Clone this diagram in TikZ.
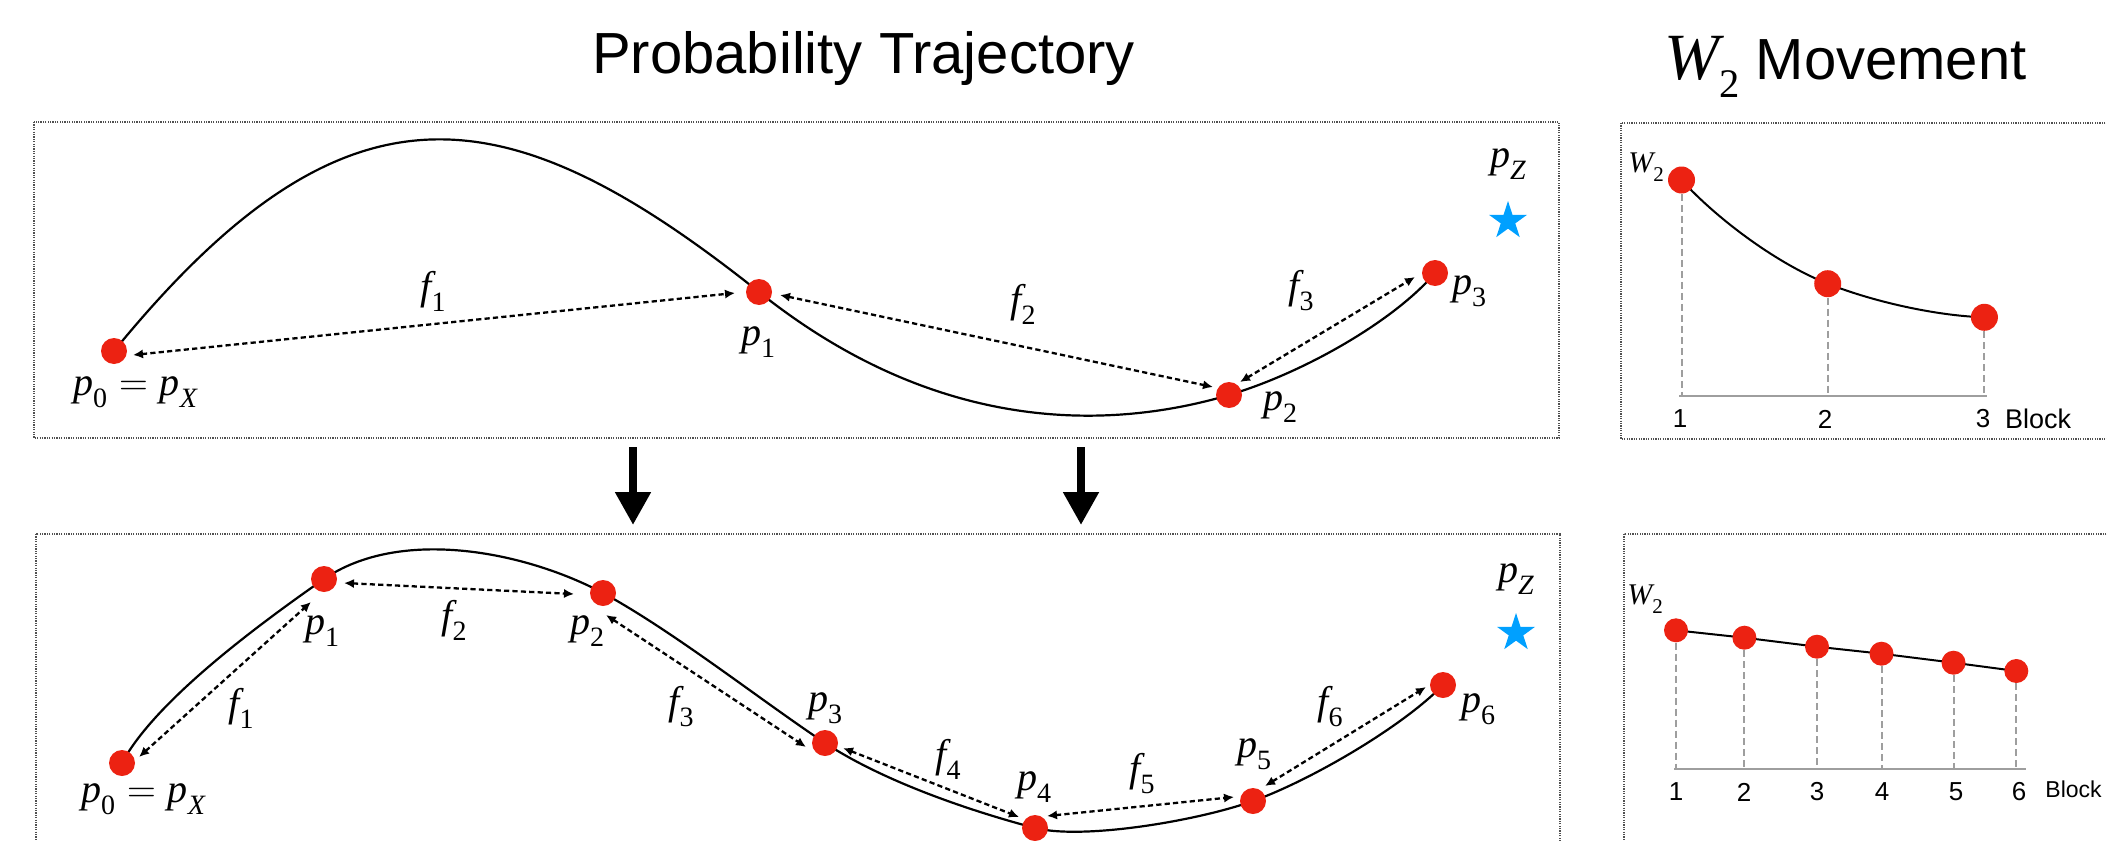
\documentclass[tikz,border=0pt]{standalone}
\usepackage{fontspec}
\newfontfamily\sansf{Liberation Sans}
\newfontfamily\tms{Liberation Serif}
\newcommand\mv[1]{{\tms\itshape #1}}
\newcommand\lsub[1]{\raisebox{-0.3em}{\scalebox{0.7}{\tms #1}}}
\usetikzlibrary{arrows.meta,shapes.geometric,calc,backgrounds}
\definecolor{dotred}{RGB}{236,34,18}
\definecolor{starblue}{RGB}{0,160,255}
\definecolor{axgray}{RGB}{158,158,158}
\definecolor{boxgray}{RGB}{80,80,80}
\begin{document}
\begin{tikzpicture}[x=0.5pt,y=-0.5pt,
  panel/.style={draw=boxgray, line width=0.6pt, dash pattern=on 0.6pt off 0.6pt},
  traj/.style={line width=1.1pt},
  dot/.style={circle, fill=dotred, inner sep=0pt, minimum size=13pt},
  sdot/.style={dot, minimum size=12pt},
  farrow/.style={line width=1.15pt, dash pattern=on 2.6pt off 1.6pt,
    {Latex[length=5pt,width=4.6pt]}-{Latex[length=5pt,width=4.6pt]}},
  lab/.style={font=\fontsize{20}{22}\selectfont, inner sep=0pt},
  wlab/.style={font=\fontsize{15}{16}\selectfont, inner sep=0pt},
  tick/.style={font=\sansf\fontsize{13}{15}\selectfont, inner sep=0pt},
  title/.style={font=\sansf\fontsize{29}{34}\selectfont, inner sep=0pt},
  zstar/.style={star, star points=5, star point ratio=2.618, fill=starblue, draw=none, inner sep=0pt, minimum size=20pt},
  vdash/.style={draw=axgray, line width=1pt, dash pattern=on 3.5pt off 2pt},
  axisline/.style={draw=axgray, line width=1.1pt},
  bigarrow/.style={line width=4pt, -{Triangle[length=16.5pt,width=17pt]}}
]
\useasboundingbox (0,0) rectangle (2107,840);

% titles
\node[title, anchor=base] (t1) at (863.5,74) {Probability Trajectory};
\node[title, anchor=base west] (t2) at (1664,80) {{\fontsize{33}{34}\selectfont\mv{W}}\lsub{2} Movement};

% panels
\draw[panel] (34,122) rectangle (1559,438);
\draw[panel] (36,534) rectangle (1560,870);
\draw[panel] (1621,123) rectangle (2140,439);
\draw[panel] (1624,534) rectangle (2140,870);

% big down arrows
\coordinate (da1) at (633,447); \coordinate (db1) at (633,525);
\coordinate (da2) at (1081,447); \coordinate (db2) at (1081,525);
\draw[bigarrow] (da1) -- (db1);
\draw[bigarrow] (da2) -- (db2);

% ---------- top trajectory ----------
\node[dot] (p0) at (114,351) {};
\node[dot] (p1) at (759,292) {};
\node[dot] (p2) at (1229,395) {};
\node[dot] (p3) at (1435,273) {};
\begin{scope}[on background layer]
\draw[traj] (p0.center) .. controls (345,68) and (505,90) .. (p1.center)
  .. controls (938,435) and (1110,430) .. (p2.center)
  .. controls (1306,372) and (1395,320) .. (p3.center);
\end{scope}
\draw[farrow] ($(p0)+(19,4)$) -- ($(p1)+(-24,1)$);
\draw[farrow] ($(p1)+(21,3)$) -- ($(p2)+(-16,-8)$);
\draw[farrow] ($(p2)+(11,-13)$) -- ($(p3)+(-20,4)$);
\node[lab] (l0) at (135,392) {\mv{p}\lsub{0}\hspace{0.3em}=\hspace{0.3em}\mv{p}\lsub{\itshape X}};
\node[lab] (l1) at (758,342) {\mv{p}\lsub{1}};
\node[lab] (l2) at (1280,407) {\mv{p}\lsub{2}};
\node[lab] (l3) at (1469,291) {\mv{p}\lsub{3}};
\node[lab] (g1) at (433,291) {\mv{f}\lsub{1}};
\node[lab] (g2) at (1023,304) {\mv{f}\lsub{2}};
\node[lab] (g3) at (1301,291) {\mv{f}\lsub{3}};
\node[lab] (lz) at (1508,164) {\mv{p}\lsub{\itshape Z}};
\node[zstar] (sz) at (1508,221) {};

% ---------- bottom trajectory ----------
\node[dot] (q0) at (122,763) {};
\node[dot] (q1) at (324,579) {};
\node[dot] (q2) at (603,593) {};
\node[dot] (q3) at (825,743) {};
\node[dot] (q4) at (1035,828) {};
\node[dot] (q5) at (1253,801) {};
\node[dot] (q6) at (1443,685) {};
\begin{scope}[on background layer]
\draw[traj] (q0.center) .. controls (155,701) and (258,625) .. (q1.center)
  .. controls (400,527) and (524,551) .. (q2.center)
  .. controls (673,631) and (759,699) .. (q3.center)
  .. controls (883,781) and (967,810) .. (q4.center)
  .. controls (1083,840) and (1197,821) .. (q5.center)
  .. controls (1309,781) and (1401,728) .. (q6.center);
\end{scope}
\draw[farrow] ($(q0)+(17,-6)$) -- ($(q1)+(-13,23)$);
\draw[farrow] ($(q1)+(20,4)$) -- ($(q2)+(-29,1)$);
\draw[farrow] ($(q2)+(3,22)$) -- ($(q3)+(-19,4)$);
\draw[farrow] ($(q3)+(18,5)$) -- ($(q4)+(-16,-11)$);
\draw[farrow] ($(q4)+(12,-12)$) -- ($(q5)+(-19,-4)$);
\draw[farrow] ($(q5)+(12,-15)$) -- ($(q6)+(-17,2)$);
\node[lab] (m0) at (143,799) {\mv{p}\lsub{0}\hspace{0.3em}=\hspace{0.3em}\mv{p}\lsub{\itshape X}};
\node[lab] (m1) at (322,631) {\mv{p}\lsub{1}};
\node[lab] (m2) at (587,631) {\mv{p}\lsub{2}};
\node[lab] (m3) at (825,708) {\mv{p}\lsub{3}};
\node[lab] (m4) at (1034,787) {\mv{p}\lsub{4}};
\node[lab] (m5) at (1254,754) {\mv{p}\lsub{5}};
\node[lab] (m6) at (1478,709) {\mv{p}\lsub{6}};
\node[lab] (h1) at (241,708) {\mv{f}\lsub{1}};
\node[lab] (h2) at (454,620) {\mv{f}\lsub{2}};
\node[lab] (h3) at (681,707) {\mv{f}\lsub{3}};
\node[lab] (h4) at (948,759) {\mv{f}\lsub{4}};
\node[lab] (h5) at (1142,774) {\mv{f}\lsub{5}};
\node[lab] (h6) at (1330,707) {\mv{f}\lsub{6}};
\node[lab] (mz) at (1516,579) {\mv{p}\lsub{\itshape Z}};
\node[zstar] (tz) at (1516,633) {};

% ---------- top W2 plot ----------
\node[wlab] (wl) at (1646,167) {\mv{W}\lsub{2}};
\node[dot, minimum size=13.5pt] (w1) at (1681.5,180) {};
\node[dot, minimum size=13.5pt] (w2) at (1827.7,283.7) {};
\node[dot, minimum size=13.5pt] (w3) at (1984.4,317.3) {};
\coordinate (b1) at (1679,396);
\coordinate (b3) at (1987,396);
\draw[axisline] (b1) -- (b3);
\draw[vdash] (w1) -- (w1 |- b1);
\draw[vdash] (w2) -- (w2 |- b1);
\draw[vdash] (w3) -- (w3 |- b1);
\begin{scope}[on background layer]
\draw[traj, line width=1pt] (w1.center) .. controls (1720,222) and (1780,265) .. (w2.center)
  .. controls (1877.7,303.3) and (1940,316) .. (w3.center);
\end{scope}
\node[tick] (k1) at (1680,419) {1};
\node[tick] (k2) at (1825,419) {2};
\node[tick] (k3) at (1983,419) {3};
\node[tick, font=\sansf\fontsize{13.5}{15}\selectfont] (kb) at (2038,419) {Block};

% ---------- bottom W2 plot ----------
\node[wlab] (vl) at (1645,599) {\mv{W}\lsub{2}};
\node[sdot] (v1) at (1676,630.3) {};
\node[sdot] (v2) at (1744.4,637.7) {};
\node[sdot] (v3) at (1817,646.7) {};
\node[sdot] (v4) at (1881.5,653.7) {};
\node[sdot] (v5) at (1953.5,662.7) {};
\node[sdot] (v6) at (2016.3,671) {};
\coordinate (c0) at (1674,769.3);
\coordinate (cE) at (2026.4,769.3);
\draw[axisline] (c0) -- (cE);
\foreach \v in {v1,v2,v3,v4,v5,v6} \draw[vdash] (\v) -- (\v |- c0);
\begin{scope}[on background layer]
\draw[traj, line width=1pt] (v1.center) -- (v2.center) -- (v3.center) -- (v4.center) -- (v5.center) -- (v6.center);
\end{scope}
\node[tick] (j1) at (1676,792) {1};
\node[tick] (j2) at (1744,792) {2};
\node[tick] (j3) at (1817,792) {3};
\node[tick] (j4) at (1882,792) {4};
\node[tick] (j5) at (1956,792) {5};
\node[tick] (j6) at (2019,792) {6};
\node[tick, font=\sansf\fontsize{11.5}{13}\selectfont] (jb) at (2073.5,789.5) {Block};
\end{tikzpicture}
\end{document}
